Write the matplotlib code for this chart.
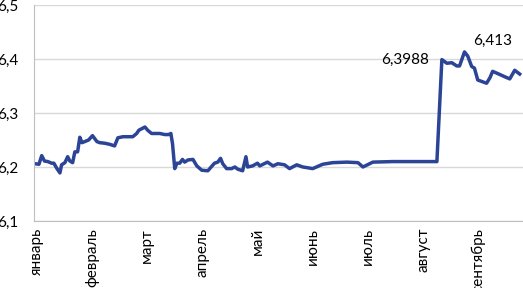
import matplotlib
matplotlib.use("Agg")
import matplotlib.pyplot as plt
from matplotlib.ticker import FuncFormatter

# months on the category axis
months = ["январь", "февраль", "март", "апрель", "май",
          "июнь", "июль", "август", "сентябрь"]

# position in months (0 = start of January) and rate values
t = [-0.03, 0.04, 0.09, 0.14, 0.20, 0.27, 0.31, 0.36, 0.42, 0.45, 0.51, 0.56,
     0.60, 0.65, 0.69, 0.74, 0.78, 0.82, 0.87, 0.94, 1.01, 1.09, 1.14, 1.23,
     1.32, 1.41, 1.47, 1.56, 1.74, 1.81, 1.85, 1.96, 2.01, 2.08, 2.23, 2.32,
     2.39, 2.43, 2.46, 2.50, 2.54, 2.59, 2.64, 2.68, 2.74, 2.83, 2.90, 2.99,
     3.10, 3.22, 3.28, 3.33, 3.37, 3.44, 3.53, 3.59, 3.64, 3.73, 3.79, 3.82,
     3.91, 4.00, 4.04, 4.18, 4.28, 4.37, 4.49, 4.58, 4.71, 4.82, 5.00, 5.18,
     5.36, 5.62, 5.82, 5.91, 6.09, 6.45, 7.25, 7.34, 7.43, 7.52, 7.61, 7.66,
     7.75, 7.81, 7.88, 7.93, 7.99, 8.15, 8.21, 8.26, 8.35, 8.48, 8.57, 8.66,
     8.75]
rate = [6.206, 6.205, 6.221, 6.211, 6.210, 6.207, 6.207, 6.198, 6.189, 6.204,
        6.208, 6.219, 6.211, 6.208, 6.228, 6.228, 6.255, 6.245, 6.247, 6.250,
        6.258, 6.247, 6.245, 6.244, 6.242, 6.239, 6.254, 6.256, 6.256, 6.262,
        6.268, 6.274, 6.268, 6.262, 6.262, 6.260, 6.260, 6.262, 6.243, 6.197,
        6.207, 6.207, 6.214, 6.209, 6.213, 6.214, 6.202, 6.194, 6.193, 6.207,
        6.209, 6.216, 6.206, 6.197, 6.197, 6.200, 6.196, 6.193, 6.219, 6.200,
        6.202, 6.207, 6.202, 6.209, 6.202, 6.206, 6.204, 6.197, 6.204, 6.200,
        6.197, 6.205, 6.208, 6.209, 6.208, 6.200, 6.209, 6.210, 6.210, 6.3988,
        6.392, 6.393, 6.387, 6.387, 6.413, 6.405, 6.386, 6.383, 6.361, 6.355,
        6.365, 6.377, 6.373, 6.367, 6.363, 6.379, 6.372]

# labelled points
labels = [(7.34, 6.3988, "6,3988"), (7.75, 6.413, "6,413")]
y_ticks = [6.1, 6.2, 6.3, 6.4, 6.5]

plt.rcParams["font.family"] = ["Lato", "DejaVu Sans"]

fig = plt.figure(figsize=(5.23, 2.88), dpi=100)
ax = fig.add_axes([0.065, 0.2326, 0.935, 0.7504])

ax.plot(t, rate, color="#2B4496", linewidth=2.5, solid_joinstyle="round")

ax.set_xlim(-0.05, 8.81)
ax.set_ylim(6.1, 6.5)
ax.set_yticks(y_ticks)
ax.yaxis.set_major_formatter(FuncFormatter(lambda v, p: f"{v:.1f}".replace(".", ",")))
ax.set_xticks(range(len(months)))
ax.set_xticklabels(months, rotation=90, va="top", ha="center")

ax.grid(axis="y", color="#D9D9D9", linewidth=1)
ax.set_axisbelow(True)
for side in ["top", "right"]:
    ax.spines[side].set_visible(False)
for side in ["left", "bottom"]:
    ax.spines[side].set_color("#BFBFBF")
ax.tick_params(axis="both", length=0, labelsize=11, colors="#000000")
ax.tick_params(axis="y", pad=11)
ax.tick_params(axis="x", pad=5)

ax.annotate(labels[0][2], (labels[0][0], labels[0][1]), xytext=(-9, 0),
            textcoords="offset points", ha="right", va="center", fontsize=11)
ax.annotate(labels[1][2], (labels[1][0], labels[1][1]), xytext=(20, 8),
            textcoords="offset points", ha="center", va="center", fontsize=11)

fig.savefig("out.png", dpi=100)
